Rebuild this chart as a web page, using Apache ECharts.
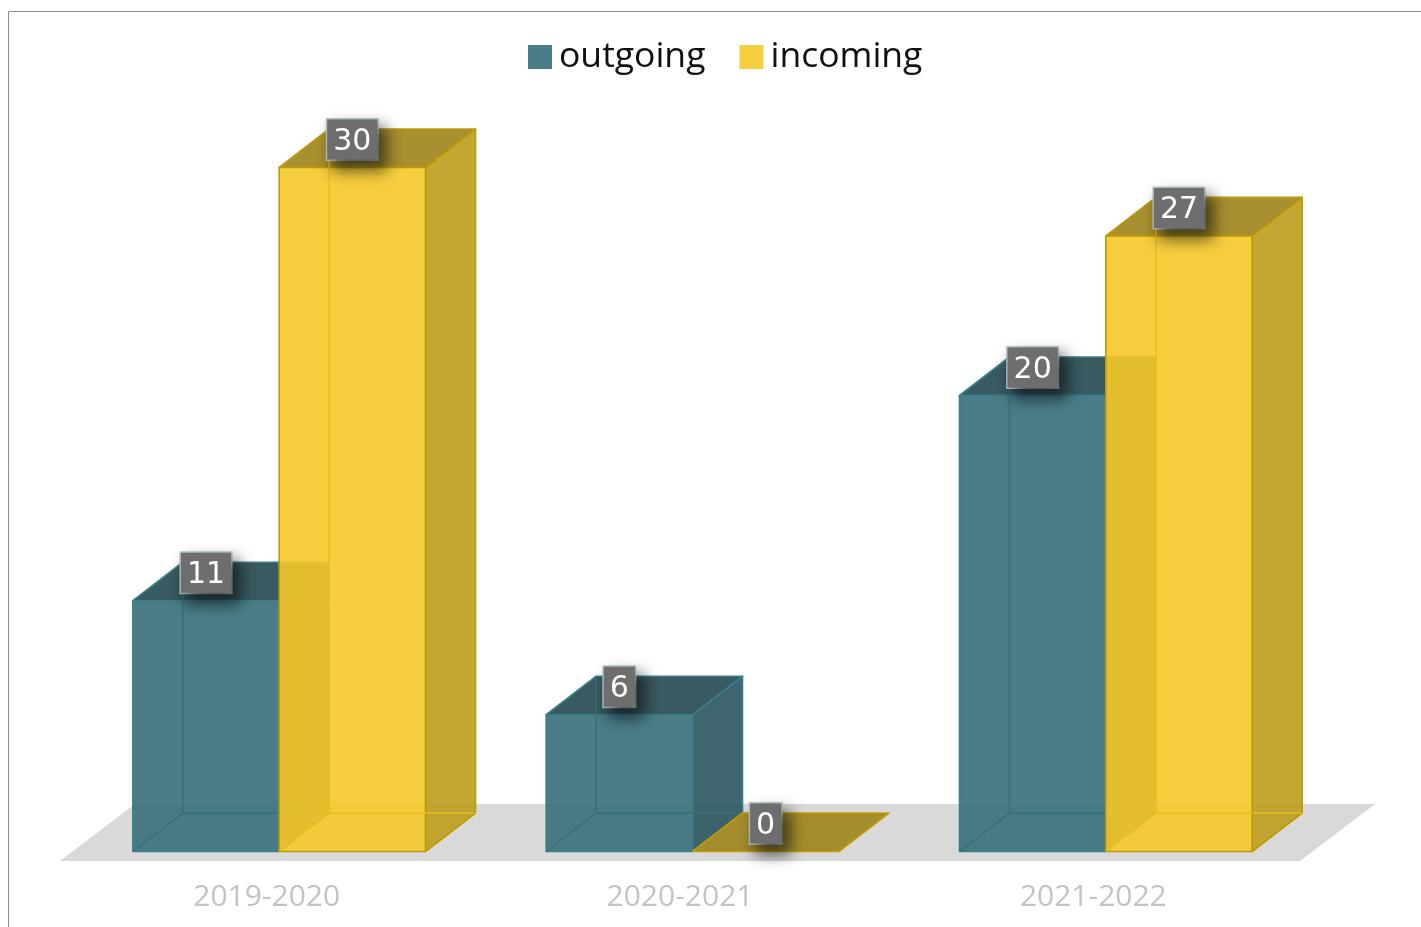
<!DOCTYPE html>
<html>
<head>
<meta charset="utf-8">
<style>html,body{margin:0;padding:0;background:#fff;overflow:hidden}#c{width:1421px;height:927px}</style>
<script src="https://cdn.jsdelivr.net/npm/echarts@6/dist/echarts.min.js"></script>
</head>
<body>
<div id="c"></div>
<script>
const categories = ['2019-2020', '2020-2021', '2021-2022'];
const outgoing = [11, 6, 20];
const incoming = [30, 0, 27];

const chart = echarts.init(document.getElementById('c'), null, {renderer: 'canvas'});

const tealStyle = {front: 'rgba(54,111,123,0.9)', side: 'rgba(42,85,94,0.9)', top: 'rgba(36,72,80,0.9)', edge: '#3b7f8b', inner: '#33707b'};
const yellowStyle = {front: 'rgba(245,200,40,0.9)', side: 'rgba(189,157,28,0.9)', top: 'rgba(159,132,25,0.9)', edge: '#bf9a08', inner: '#e9bd1f'};

function poly(points, fill, stroke) {
  return {type: 'polygon', shape: {points}, style: {fill, stroke: stroke, lineWidth: 1.6, lineJoin: 'round'}};
}
function seg(a, b, stroke) {
  return {type: 'line', shape: {x1: a[0], y1: a[1], x2: b[0], y2: b[1]}, style: {stroke, lineWidth: 1.4}};
}

function barRenderer(pal, dir) {
  return function (params, api) {
    const c = api.value(0), v = api.value(1);
    const band = api.size([1, 0])[0];
    const w = band * 0.354;
    const inX = 12.5, inY = 9.5, dx = 50, dy = 38.5;
    const centre = api.coord([c, 0]);
    const top = api.coord([c, v]);
    const x0 = centre[0] + inX + (dir < 0 ? -w : 0);
    const x1 = x0 + w;
    const yB = centre[1] - inY;
    const yT = top[1] - inY;
    const children = [];
    if (v > 0) {
      children.push(poly([[x1, yT], [x1 + dx, yT - dy], [x1 + dx, yB - dy], [x1, yB]], pal.side, pal.edge));
    }
    children.push(poly([[x0, yT], [x1, yT], [x1 + dx, yT - dy], [x0 + dx, yT - dy]], pal.top, pal.edge));
    if (v > 0) {
      children.push(poly([[x0, yT], [x1, yT], [x1, yB], [x0, yB]], pal.front, pal.edge));
      // back edges, seen through the translucent faces
      children.push(seg([x0 + dx, yB - dy], [x1 + dx, yB - dy], pal.inner));
      children.push(seg([x0 + dx, yB - dy], [x0 + dx, yT - dy], pal.inner));
      children.push(seg([x0, yB], [x0 + dx, yB - dy], pal.inner));
    }
    const cx = (x0 + x1) / 2, cy = yT - 28;
    // label box and shadow, then the number on top of it
    children.push({
      type: 'text',
      z2: 50,
      style: {
        text: String(v),
        x: cx, y: cy,
        align: 'center',
        verticalAlign: 'middle',
        fill: 'rgba(0,0,0,0)',
        fontFamily: '"DejaVu Sans"',
        fontSize: 30,
        lineHeight: 34,
        backgroundColor: '#6e6e6e',
        borderColor: '#b4c4c8',
        borderWidth: 1.5,
        padding: [3, 6],
        shadowColor: 'rgba(0,0,0,0.6)',
        shadowBlur: 15,
        shadowOffsetX: 7,
        shadowOffsetY: 9
      }
    });
    children.push({
      type: 'text',
      z2: 51,
      style: {
        text: String(v),
        x: cx, y: cy + 2.5,
        align: 'center',
        verticalAlign: 'middle',
        fill: '#ffffff',
        fontFamily: '"DejaVu Sans"',
        fontSize: 30
      }
    });
    return {type: 'group', children};
  };
}

function floorRenderer(params, api) {
  const g = params.coordSys;
  const b = g.y + g.height, dx = 75, dy = 57;
  return {
    type: 'polygon',
    silent: true,
    shape: {points: [[g.x, b], [g.x + g.width, b], [g.x + g.width + dx, b - dy], [g.x + dx, b - dy]]},
    style: {fill: '#d9d9d9'}
  };
}

chart.setOption({
  animation: false,
  backgroundColor: '#ffffff',
  grid: {left: 60, width: 1240, top: 63, bottom: 66, containLabel: false},
  legend: {
    data: ['outgoing', 'incoming'],
    left: 523,
    top: 34,
    icon: 'rect',
    itemWidth: 24,
    itemHeight: 24,
    itemGap: 34,
    selectedMode: false,
    textStyle: {fontFamily: '"Open Sans"', fontSize: 35.5, color: '#111111', padding: [0, 0, 0, 2]}
  },
  xAxis: {
    type: 'category',
    data: categories,
    axisLine: {show: false},
    axisTick: {show: false},
    splitLine: {show: false},
    axisLabel: {color: '#c3c3c3', fontFamily: '"Open Sans"', fontSize: 30, margin: 21, interval: 0}
  },
  yAxis: {type: 'value', min: 0, max: 35, show: false, splitLine: {show: false}},
  graphic: [{
    type: 'rect',
    silent: true,
    z: -1,
    shape: {x: 8.5, y: 11.5, width: 1600, height: 1200},
    style: {fill: 'none', stroke: '#8c8c8c', lineWidth: 1}
  }],
  series: [
    {
      type: 'custom', name: 'floor', z: 1, silent: true, clip: false,
      renderItem: floorRenderer, data: [[0, 0]], encode: {x: 0, y: 1}
    },
    {
      type: 'custom', name: 'outgoing', z: 2, clip: false,
      itemStyle: {color: '#4a7d88'},
      renderItem: barRenderer(tealStyle, -1),
      data: outgoing.map((v, i) => [i, v]), encode: {x: 0, y: 1}
    },
    {
      type: 'custom', name: 'incoming', z: 3, clip: false,
      itemStyle: {color: '#f6ce3e'},
      renderItem: barRenderer(yellowStyle, 1),
      data: incoming.map((v, i) => [i, v]), encode: {x: 0, y: 1}
    }
  ]
});
</script>
</body>
</html>
